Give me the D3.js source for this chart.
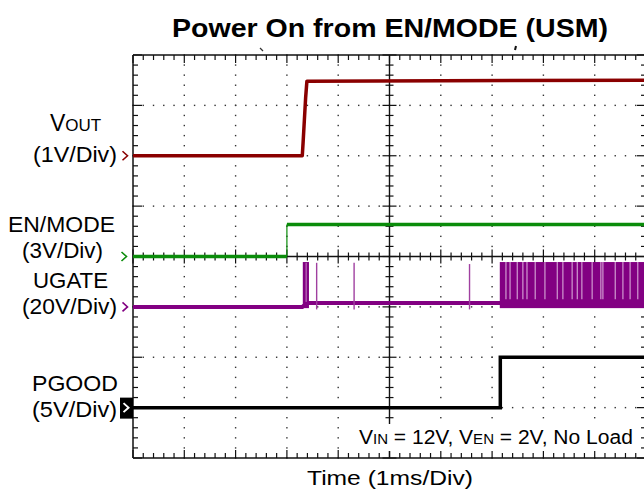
<!DOCTYPE html>
<html><head><meta charset="utf-8">
<script src="https://cdn.jsdelivr.net/npm/d3@7"></script>
<style>
html,body{margin:0;padding:0;background:#fff;}
svg{display:block;font-family:"Liberation Sans",Arial,sans-serif;}
</style></head>
<body>
<svg id="chart" width="644" height="498"></svg>
<script>
// ---- data (time in ms from left edge of screen, values in volts) ----
const voutT = [0, 3.30, 3.315, 3.34, 3.365, 3.39, 10];
const voutV = [0, 0, 0.25, 0.7, 1.15, 1.48, 1.5];
const enT = [0, 3.0, 3.0, 10];
const enV = [0, 0, 1.9, 1.9];
const ugateT = [0, 3.30, 3.40, 10];
const ugateV = [0, 0, 1.5, 1.5];
const ugateBlock = [3.31, 3.43];          // initial burst (ms)
const ugateSpikeT = [3.58, 4.31, 6.56];   // isolated pulses (ms)
const ugateSpikeV = [17.5, 17.5, 17];
const ugateSwitchStart = 7.15, ugateSwitchTop = 17.8, ugateSwitchLow = -0.5;
const ugateGapT = [7.27,7.35,7.49,7.60,7.68,7.84,8.03,8.27,8.38,8.56,8.66,8.75,8.95,9.12,9.16,9.40,9.55,9.69,9.84];
const pgoodT = [0, 7.16, 7.16, 10];
const pgoodV = [0, 0, 5, 5];
const channels = [
  {key:"vout",  offset: 2, vpd: 1,  color:"#8a0000"},
  {key:"en",    offset: 0, vpd: 3,  color:"#0a8c0a"},
  {key:"ugate", offset:-1, vpd: 20, color:"#820082"},
  {key:"pgood", offset:-3, vpd: 5,  color:"#000000"}
];

const svg = d3.select("#chart");
const x = d3.scaleLinear().domain([0,10]).range([133,646]);
const y = d3.scaleLinear().domain([-4,4]).range([458,55]);
const ch = Object.fromEntries(channels.map(c=>[c.key,c]));
const yv = (c,v)=> y(c.offset + v/c.vpd);

// ---- title ----
svg.append("text").attr("x",390).attr("y",37).attr("text-anchor","middle")
  .attr("font-size",26).attr("font-weight","bold")
  .attr("textLength",436).attr("lengthAdjust","spacingAndGlyphs")
  .text("Power On from EN/MODE (USM)");

// ---- graticule ----
const g = svg.append("g");
const minor = d3.range(0, 50.0001, 1).map(i=>i*0.2);
const minorY = d3.range(0, 40.0001, 1).map(i=>-4 + i*0.2);
for (let k=1;k<10;k++){ if(k===5) continue;
  minorY.forEach(v=>{ g.append("rect").attr("x",x(k)-0.7).attr("y",y(v)-0.7).attr("width",1.4).attr("height",1.4).attr("fill","#333"); });
}
for (let k=-3;k<=3;k++){ if(k===0) continue;
  minor.forEach(t=>{ g.append("rect").attr("x",x(t)-0.7).attr("y",y(k)-0.7).attr("width",1.4).attr("height",1.4).attr("fill","#333"); });
}
const L = (x1,y1,x2,y2,w)=> g.append("line").attr("x1",x1).attr("y1",y1).attr("x2",x2).attr("y2",y2).attr("stroke","#111").attr("stroke-width",w||1.2);
L(x(0),y(4),x(10),y(4),1.5); L(x(0),y(-4),x(10),y(-4),1.5);
L(x(0),y(-4),x(0),y(4),1.5); L(x(10),y(-4),x(10),y(4),1.5);
minor.forEach(t=>{ const maj = Math.abs(t-Math.round(t))<1e-6; const len = maj?8:5;
  L(x(t),y(4),x(t),y(4)+len); L(x(t),y(-4),x(t),y(-4)-len);
  const cl = maj?7:4; L(x(t),y(0)-cl,x(t),y(0)+cl);
});
minorY.forEach(v=>{ const maj = Math.abs(v-Math.round(v))<1e-6; const len = maj?9:5;
  L(x(0),y(v),x(0)+len,y(v)); L(x(10),y(v),x(10)-len,y(v));
  const cl = maj?7:4; L(x(5)-cl,y(v),x(5)+cl,y(v));
});
L(x(0),y(0),x(10),y(0),1.4); L(x(5),y(-4),x(5),y(4),1.4);
g.append("path").attr("d",`M${260},48 l3,3`).attr("stroke","#333").attr("stroke-width",1.2);
g.append("path").attr("d",`M${516},46 l-1,4`).attr("stroke","#111").attr("stroke-width",2);

// ---- traces ----
const line = (c)=> d3.line().x(d=>x(d[0])).y(d=>yv(c,d[1]));
const tr = svg.append("g");
const cu = ch.ugate;
tr.append("path").attr("d",line(cu)(d3.zip(ugateT,ugateV))).attr("fill","none").attr("stroke",cu.color).attr("stroke-width",4);
tr.append("rect").attr("x",x(ugateBlock[0])).attr("width",x(ugateBlock[1])-x(ugateBlock[0]))
  .attr("y",yv(cu,17.8)).attr("height",yv(cu,-0.5)-yv(cu,17.8)).attr("fill",cu.color);
tr.append("line").attr("x1",x(3.375)).attr("x2",x(3.375)).attr("y1",yv(cu,17.5)).attr("y2",yv(cu,2)).attr("stroke","#c58ac5").attr("stroke-width",1);
ugateSpikeT.forEach((t,i)=>{
  tr.append("line").attr("x1",x(t)).attr("x2",x(t)).attr("y1",yv(cu,ugateSpikeV[i])).attr("y2",yv(cu,-1)).attr("stroke","#a040a0").attr("stroke-width",1.4);
});
tr.append("rect").attr("x",x(ugateSwitchStart)).attr("width",x(10)-x(ugateSwitchStart))
  .attr("y",yv(cu,ugateSwitchTop)).attr("height",yv(cu,ugateSwitchLow)-yv(cu,ugateSwitchTop)).attr("fill",cu.color);
ugateGapT.forEach(t=>{
  tr.append("line").attr("x1",x(t)).attr("x2",x(t)).attr("y1",yv(cu,ugateSwitchTop)).attr("y2",yv(cu,3)).attr("stroke","#d8a8d8").attr("stroke-width",1.1);
});
const ce = ch.en;
const le = line(ce);
tr.append("path").attr("d",le(d3.zip(enT.slice(0,2),enV.slice(0,2)))).attr("fill","none").attr("stroke",ce.color).attr("stroke-width",3.5);
tr.append("path").attr("d",le(d3.zip(enT.slice(1,3),enV.slice(1,3)))).attr("fill","none").attr("stroke",ce.color).attr("stroke-width",1.2);
tr.append("path").attr("d",le(d3.zip(enT.slice(2),enV.slice(2)))).attr("fill","none").attr("stroke",ce.color).attr("stroke-width",3.5);
const cv = ch.vout;
tr.append("path").attr("d",line(cv)(d3.zip(voutT,voutV))).attr("fill","none").attr("stroke",cv.color).attr("stroke-width",3.5).attr("stroke-linejoin","round");
const cp = ch.pgood;
tr.append("path").attr("d",line(cp)(d3.zip(pgoodT,pgoodV))).attr("fill","none").attr("stroke",cp.color).attr("stroke-width",3.5);

// ---- channel markers ----
const chev = (cx,cy,col,w)=> svg.append("path").attr("d",`M${cx-3.5},${cy-4.5} L${cx+1.5},${cy} L${cx-3.5},${cy+4.5}`).attr("fill","none").attr("stroke",col).attr("stroke-width",w||1.6);
chev(126,yv(cv,0),cv.color);
chev(125,yv(ce,0),ce.color);
chev(126,yv(cu,0),cu.color);
svg.append("rect").attr("x",120).attr("y",yv(cp,0)-10).attr("width",13).attr("height",21).attr("fill","#000");
chev(127,yv(cp,0),"#fff",2);

// ---- labels ----
const lab = (txt,xr,yb,w,fs)=> svg.append("text").attr("x",xr-w).attr("y",yb).attr("font-size",fs||22)
  .attr("textLength",w).attr("lengthAdjust","spacingAndGlyphs").text(txt);
const vo = svg.append("text").attr("x",50).attr("y",131).attr("font-size",23);
vo.append("tspan").text("V"); vo.append("tspan").attr("font-size",17).text("OUT");
lab("(1V/Div)",117,162,84);
lab("EN/MODE",115,232,107);
lab("(3V/Div)",103,258,81);
lab("UGATE",108,288,75);
lab("(20V/Div)",117,314,95);
lab("PGOOD",118,391,86);
lab("(5V/Div)",117,417,85);

// annotation
svg.append("rect").attr("x",355).attr("y",424).attr("width",282).attr("height",27).attr("fill","#fff");
const an = svg.append("text").attr("x",359).attr("y",444).attr("font-size",21);
an.append("tspan").text("V"); an.append("tspan").attr("font-size",15).text("IN");
an.append("tspan").text(" = 12V, V"); an.append("tspan").attr("font-size",15).text("EN");
an.append("tspan").text(" = 2V, No Load");
const anW = an.node().getComputedTextLength();
an.attr("transform",`translate(359,0) scale(${274/anW},1) translate(-359,0)`);
// x axis label
svg.append("text").attr("x",307).attr("y",485).attr("font-size",21)
  .attr("textLength",166).attr("lengthAdjust","spacingAndGlyphs").text("Time  (1ms/Div)");
</script>
</body></html>
